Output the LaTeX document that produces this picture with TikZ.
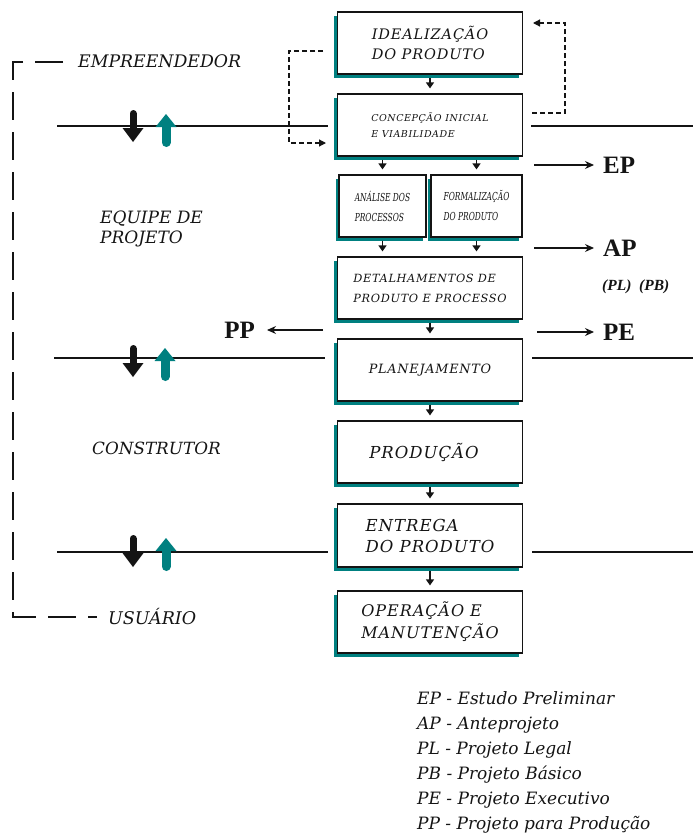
\documentclass[tikz,border=0pt]{standalone}
\usepackage{fontspec}
\setmainfont{DejaVu Serif}
\newfontfamily\slab{DejaVu Serif}
\newfontfamily\slabsp[LetterSpace=6]{DejaVu Serif}
\newfontfamily\slabnarrow[FakeStretch=0.68]{DejaVu Serif}
\newfontfamily\tmsfont{Liberation Serif}
\usetikzlibrary{arrows.meta,shadows}

\definecolor{tealmark}{RGB}{0,128,128}
\definecolor{ink}{RGB}{20,20,20}

\tikzset{
  dropmark/.pic={
    \draw[ink, line width=7pt, line cap=round] (0,-28.5) -- (0,-12);
    \fill[ink] (-10.5,-14) -- (10.5,-14) -- (0,0) -- cycle;
  },
  risemark/.pic={
    \draw[tealmark, line width=9pt, line cap=round] (0,28.5) -- (0,11);
    \fill[tealmark] (-10.5,13) -- (10.5,13) -- (0,0) -- cycle;
  }
}

\begin{document}
\begin{tikzpicture}[x=1pt,y=-1pt,
  stage/.style={draw=ink, line width=1.2pt, fill=white,
    minimum width=185pt, minimum height=62pt, inner sep=0pt,
    align=left, text=ink,
    drop shadow={shadow xshift=-3.5pt, shadow yshift=-3.5pt, fill=tealmark, opacity=1}},
  flow/.style={draw=ink, line width=1.3pt, -{Triangle[width=8pt,length=6pt]},
    shorten <=3pt, shorten >=5pt},
  divider/.style={draw=ink, line width=1.2pt},
  loopline/.style={draw=ink, line width=1.2pt, dash pattern=on 5pt off 3pt,
    -{Triangle[width=7pt,length=7pt]}},
  bracket/.style={draw=ink, line width=1.3pt, dash pattern=on 28pt off 12pt},
  outarrow/.style={draw=ink, line width=1.1pt, -{Stealth[width=8pt,length=9pt]}},
  outlbl/.style={inner sep=0pt, text=ink, font={\fontsize{25}{28}\tmsfont\bfseries}},
  role/.style={anchor=west, inner sep=0pt, text=ink},
  legendline/.style={anchor=base west, inner sep=0pt, text=ink,
    font={\fontsize{17}{20}\slab\itshape}}
]
\useasboundingbox (0,0) rectangle (693,835);

% ---- process stages ----
\node[stage, font={\fontsize{14.5}{19.5}\slabsp\itshape}] (idea) at (430,43) {IDEALIZAÇÃO\\DO PRODUTO};
\node[stage, font={\fontsize{9.5}{16}\slabsp\itshape}] (conc) at (430,125) {CONCEPÇÃO INICIAL\\E VIABILIDADE};
\node[stage, minimum width=87pt, font={\fontsize{11}{20}\slabnarrow\itshape}] (anal) at (382.5,206) {ANÁLISE DOS\\PROCESSOS};
\node[stage, minimum width=91pt, font={\fontsize{11}{20}\slabnarrow\itshape}] (form) at (476.5,206) {FORMALIZAÇÃO\\DO PRODUTO};
\node[stage, font={\fontsize{11.3}{20}\slabsp\itshape}] (detal) at (430,288) {DETALHAMENTOS DE\\PRODUTO E PROCESSO};
\node[stage, font={\fontsize{12.8}{14}\slabsp\itshape}] (plan) at (430,370) {PLANEJAMENTO};
\node[stage, font={\fontsize{16.5}{21}\slabsp\itshape}] (prod) at (430,452) {PRODUÇÃO\hspace*{12pt}};
\node[stage, minimum height=63pt, font={\fontsize{16.5}{21}\slabsp\itshape}] (entr) at (430,535.5) {ENTREGA\\DO PRODUTO};
\node[stage, font={\fontsize{16}{22}\slabsp\itshape}] (oper) at (430,622) {OPERAÇÃO E\\MANUTENÇÃO};

% ---- flow between stages ----
\draw[flow] (idea) -- (conc);
\draw[flow] (anal.north |- conc.south) -- (anal.north);
\draw[flow] (form.north |- conc.south) -- (form.north);
\draw[flow] (anal) -- (anal.south |- detal.north);
\draw[flow] (form) -- (form.south |- detal.north);
\draw[flow] (detal) -- (plan);
\draw[flow] (plan) -- (prod);
\draw[flow] (prod) -- (entr);
\draw[flow] (entr) -- (oper);

% ---- feedback loops ----
\coordinate (lpS) at (323,51);
\coordinate (lpE) at (326,143);
\draw[loopline] (lpS) -- ++(-34,0) |- (lpE);
\coordinate (rpS) at (532,113);
\coordinate (rpE) at (533,23);
\draw[loopline] (rpS) -- ++(33,0) |- (rpE);

% ---- phase boundaries ----
\coordinate (d1a) at (57,126);  \coordinate (d1b) at (328,126);
\coordinate (d1c) at (531,126); \coordinate (d1d) at (693,126);
\coordinate (d2a) at (54,358);  \coordinate (d2b) at (325,358);
\coordinate (d2c) at (532,358); \coordinate (d2d) at (693,358);
\coordinate (d3a) at (57,552);  \coordinate (d3b) at (328,552);
\coordinate (d3c) at (532,552); \coordinate (d3d) at (693,552);
\draw[divider] (d1a) -- (d1b);
\draw[divider] (d1c) -- (d1d);
\draw[divider] (d2a) -- (d2b);
\draw[divider] (d2c) -- (d2d);
\draw[divider] (d3a) -- (d3b);
\draw[divider] (d3c) -- (d3d);

% ---- exchange marks on each boundary ----
\pic at (133,142) {dropmark};
\pic at (166,114) {risemark};
\pic at (133,377) {dropmark};
\pic at (165,348) {risemark};
\pic at (133,567) {dropmark};
\pic at (166,538) {risemark};

% ---- left bracket and agents ----
\coordinate (brT) at (63,62);
\coordinate (brB) at (97,617);
\draw[bracket] (brT) -- ++(-50,0) |- (brB);

\node[role, font={\fontsize{17.3}{20}\slab\itshape}] (empr) at (78,61) {EMPREENDEDOR};
\node[role, align=left, font={\fontsize{17}{19.5}\slab\itshape}] (equipe) at (100,229) {EQUIPE DE\\PROJETO};
\node[role, font={\fontsize{16.8}{20}\slab\itshape}] (constr) at (92,448) {CONSTRUTOR};
\node[role, font={\fontsize{17.5}{20}\slab\itshape}] (usu) at (108,617) {USUÁRIO};

% ---- project deliverables ----
\node[outlbl, anchor=west] (ep) at (603,165) {EP};
\coordinate (epS) at (534,165);
\draw[outarrow, shorten >=9pt] (epS) -- (ep.west);
\node[outlbl, anchor=west] (ap) at (603,248) {AP};
\coordinate (apS) at (534,248);
\draw[outarrow, shorten >=9pt] (apS) -- (ap.west);
\node[anchor=west, inner sep=0pt, text=ink, font={\fontsize{15.5}{18}\tmsfont\bfseries\itshape}] (plpb) at (602,287) {(PL)\ \ (PB)};
\node[outlbl, anchor=west] (pe) at (603,332) {PE};
\coordinate (peS) at (537,332);
\draw[outarrow, shorten >=9pt] (peS) -- (pe.west);
\node[outlbl, anchor=east] (pp) at (255,330) {PP};
\coordinate (ppS) at (323,330);
\draw[outarrow, shorten >=12pt] (ppS) -- (pp.east);

% ---- legend ----
\node[legendline] (leg1) at (417,704) {EP - Estudo Preliminar};
\node[legendline] (leg2) at (417,729) {AP - Anteprojeto};
\node[legendline] (leg3) at (417,754) {PL - Projeto Legal};
\node[legendline] (leg4) at (417,779) {PB - Projeto Básico};
\node[legendline] (leg5) at (417,804) {PE - Projeto Executivo};
\node[legendline] (leg6) at (417,829) {PP - Projeto para Produção};
\end{tikzpicture}
\end{document}
